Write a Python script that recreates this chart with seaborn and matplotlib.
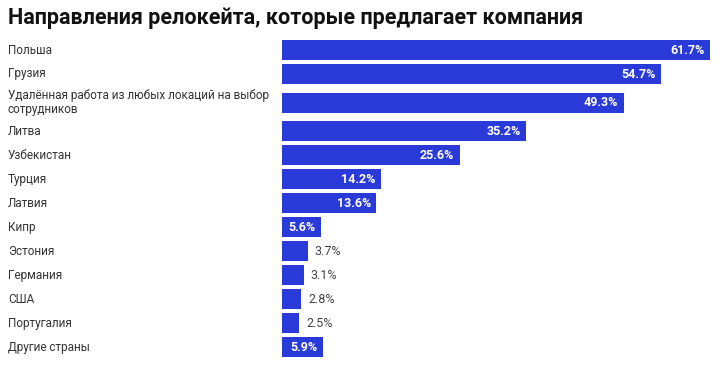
import matplotlib
matplotlib.use("Agg")
import matplotlib.pyplot as plt
import matplotlib.transforms as mtransforms
import seaborn as sns
import pandas as pd

categories = [
    "Польша",
    "Грузия",
    "Удалённая работа из любых локаций на выбор\nсотрудников",
    "Литва",
    "Узбекистан",
    "Турция",
    "Латвия",
    "Кипр",
    "Эстония",
    "Германия",
    "США",
    "Португалия",
    "Другие страны",
]
values = [61.7, 54.7, 49.3, 35.2, 25.6, 14.2, 13.6, 5.6, 3.7, 3.1, 2.8, 2.5, 5.9]
title = "Направления релокейта, которые предлагает компания"

# row positions: multi-line labels get extra room
positions = []
p = 0.0
for i, c in enumerate(categories):
    extra = 0.19 * (c.count("\n"))
    if i > 0:
        p += 1
    p += extra
    positions.append(p)
    p += extra

df = pd.DataFrame({"cat": categories, "val": values, "pos": positions})

sns.set_theme(style="white")
plt.rcParams["font.family"] = ["Roboto", "DejaVu Sans"]

W, H = 720, 377
fig = plt.figure(figsize=(W / 100, H / 100), dpi=100)
fig.patch.set_facecolor("white")
ax_left, ax_right = 282, 710
ax_top, ax_bot = 38, 362
ax = fig.add_axes([ax_left / W, 1 - ax_bot / H, (ax_right - ax_left) / W, (ax_bot - ax_top) / H])

bar_color = "#2a3ad8"
sns.barplot(data=df, x="val", y="pos", orient="h", native_scale=True,
            color=bar_color, width=0.83, saturation=1, ax=ax, linewidth=0)

ax.set_xlim(0, max(values))
ax.set_ylim(13.0, -0.5)
ax.set_xlabel("")
ax.set_ylabel("")
ax.set_xticks([])
ax.set_yticks([])
for s in ax.spines.values():
    s.set_visible(False)

trans = mtransforms.blended_transform_factory(fig.transFigure, ax.transData)
for c, ps in zip(categories, positions):
    ax.text(8 / W, ps, c, transform=trans, ha="left", va="center",
            fontsize=8.5, color="#333333", linespacing=1.05)

for v, ps in zip(values, positions):
    if v >= 5:
        ax.annotate(f"{v}%", (v, ps), xytext=(-4, 0), textcoords="offset points",
                    ha="right", va="center", fontsize=9, color="white",
                    fontweight="bold")
    else:
        ax.annotate(f"{v}%", (v, ps), xytext=(5, 0), textcoords="offset points",
                    ha="left", va="center", fontsize=9, color="#444444")

fig.text(8 / W, 1 - 18 / H, title, ha="left", va="center", fontsize=15.5,
         fontweight="bold", color="#111111")

fig.savefig("out.png", dpi=100, facecolor="white")
